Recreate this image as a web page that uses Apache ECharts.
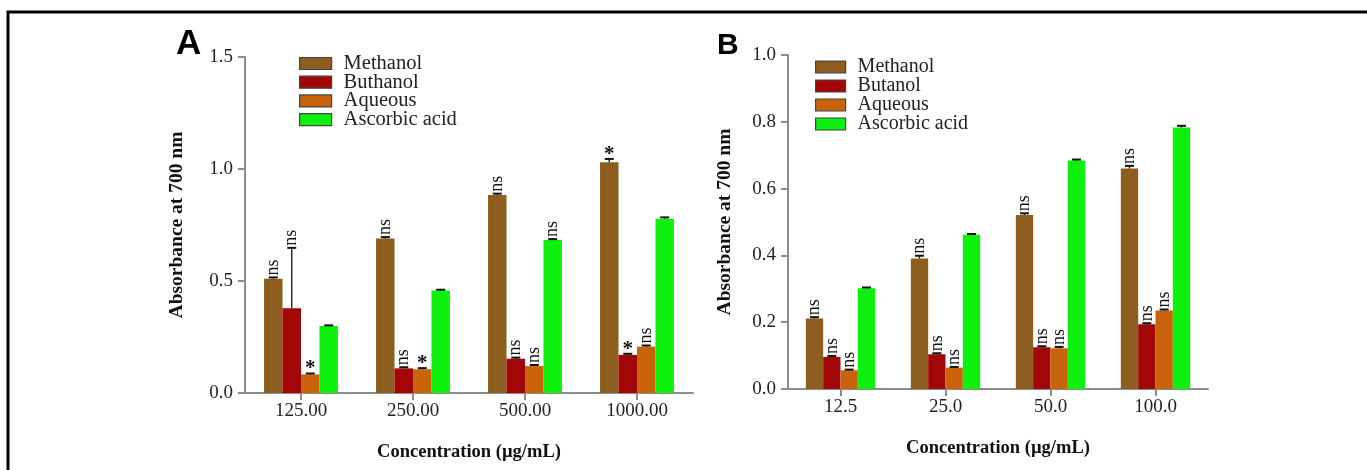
<!DOCTYPE html>
<html>
<head>
<meta charset="utf-8">
<script src="https://cdn.jsdelivr.net/npm/echarts@6/dist/echarts.min.js"></script>
<style>
html,body{margin:0;padding:0;background:#fff;}
#chart{width:1367px;height:470px;}
</style>
</head>
<body>
<div id="chart"></div>
<script>
// ---------- DATA ----------
const seriesNames = ['Methanol', 'Buthanol', 'Aqueous', 'Ascorbic acid'];
const seriesNamesB = ['Methanol', 'Butanol', 'Aqueous', 'Ascorbic acid'];

// Panel A
const catsA = ['125.00', '250.00', '500.00', '1000.00'];
const methanolA = [0.51, 0.69, 0.884, 1.03];
const buthanolA = [0.378, 0.110, 0.153, 0.170];
const aqueousA = [0.083, 0.106, 0.120, 0.207];
const ascorbicA = [0.299, 0.458, 0.683, 0.778];
const methanolErrA = [0.006, 0.006, 0.006, 0.015];
const buthanolErrA = [0.27, 0.005, 0.005, 0.005];
const aqueousErrA = [0.004, 0.005, 0.005, 0.005];
const ascorbicErrA = [0.003, 0.003, 0.004, 0.006];
const methanolSigA = ['ns', 'ns', 'ns', '*'];
const buthanolSigA = ['ns', 'ns', 'ns', '*'];
const aqueousSigA = ['*', '*', 'ns', 'ns'];
const ascorbicSigA = ['', '', 'ns', ''];
const yTicksA = [0, 0.5, 1.0, 1.5];

// Panel B
const catsB = ['12.5', '25.0', '50.0', '100.0'];
const methanolB = [0.211, 0.391, 0.521, 0.660];
const butanolB = [0.096, 0.104, 0.125, 0.194];
const aqueousB = [0.056, 0.064, 0.122, 0.235];
const ascorbicB = [0.302, 0.462, 0.684, 0.783];
const methanolErrB = [0.004, 0.008, 0.005, 0.008];
const butanolErrB = [0.003, 0.003, 0.003, 0.003];
const aqueousErrB = [0.002, 0.002, 0.004, 0.003];
const ascorbicErrB = [0.002, 0.002, 0.003, 0.005];
const methanolSigB = ['ns', 'ns', 'ns', 'ns'];
const butanolSigB = ['ns', 'ns', 'ns', 'ns'];
const aqueousSigB = ['ns', 'ns', 'ns', 'ns'];
const ascorbicSigB = ['', '', '', ''];
const yTicksB = [0, 0.2, 0.4, 0.6, 0.8, 1.0];

// ---------- STYLE ----------
const colors = ['#8E5D20', '#A30606', '#C9640C', '#0EF00E'];
const SERIF = 'Liberation Serif';
const CAT_GAP = 0.34;

function fmt(v, d) { return v.toFixed(d); }

function barSeries(name, data, idx, gi) {
  return {
    type: 'bar', name: name, data: data,
    xAxisIndex: gi, yAxisIndex: gi,
    barGap: '0%', barCategoryGap: (CAT_GAP * 100) + '%',
    itemStyle: { color: colors[idx] },
    emphasis: { disabled: true },
    z: 2
  };
}

function errSeries(values, errs, sigs, idx, gi) {
  return {
    type: 'custom', xAxisIndex: gi, yAxisIndex: gi,
    data: values.map((v, i) => [i, v, errs[i]]),
    z: 10, silent: true,
    renderItem: function (params, api) {
      const i = api.value(0), v = api.value(1), e = api.value(2);
      const sig = sigs[params.dataIndex];
      const band = api.size([1, 0])[0];
      const bw = band * (1 - CAT_GAP) / 4;
      const c = api.coord([i, v]);
      const x = c[0] + (idx - 1.5) * bw;
      const yTop = api.coord([i, v + e])[1];
      const children = [
        { type: 'line', shape: { x1: x, y1: c[1], x2: x, y2: yTop }, style: { stroke: '#111', lineWidth: 1.3 } },
        { type: 'line', shape: { x1: x - 4.5, y1: yTop, x2: x + 4.5, y2: yTop }, style: { stroke: '#111', lineWidth: 2 } }
      ];
      if (sig === 'ns') {
        children.push({
          type: 'text', x: x, y: yTop - 2, rotation: Math.PI / 2,
          style: { text: 'ns', font: '18px "' + SERIF + '"', fill: '#111', align: 'left', verticalAlign: 'middle' }
        });
      } else if (sig === '*') {
        children.push({
          type: 'text', x: x, y: yTop - 15,
          style: { text: '*', font: 'bold 21px "' + SERIF + '"', fill: '#111', align: 'center', verticalAlign: 'top' }
        });
      }
      return { type: 'group', children: children };
    }
  };
}

const axisLineStyle = { color: '#8c8c8c', width: 2 };
const labelStyle = { fontFamily: SERIF, fontSize: 19, color: '#222' };
const nameStyle = { fontFamily: SERIF, fontSize: 18.5, fontWeight: 'bold', color: '#111' };
const yNameStyle = { fontFamily: SERIF, fontSize: 19.5, fontWeight: 'bold', color: '#111' };

function xAxis(cats, gi) {
  return {
    type: 'category', gridIndex: gi, data: cats,
    axisLine: { lineStyle: axisLineStyle },
    axisTick: { show: true, alignWithLabel: true, length: 7, lineStyle: axisLineStyle },
    axisLabel: Object.assign({ margin: 9 }, labelStyle),
    name: 'Concentration (µg/mL)', nameLocation: 'middle', nameGap: 50,
    nameTextStyle: nameStyle
  };
}
function yAxis(max, interval, decimals, gi, gap) {
  return {
    type: 'value', gridIndex: gi, min: 0, max: max, interval: interval,
    axisLine: { show: true, lineStyle: axisLineStyle },
    axisTick: { show: true, length: 7, lineStyle: axisLineStyle },
    splitLine: { show: false },
    axisLabel: Object.assign({ margin: 12, formatter: v => fmt(v, decimals) }, labelStyle),
    name: 'Absorbance at 700 nm', nameLocation: 'middle', nameGap: gap, nameRotate: 90,
    nameTextStyle: yNameStyle
  };
}

const chart = echarts.init(document.getElementById('chart'));
chart.setOption({
  animation: false,
  backgroundColor: '#fff',
  grid: [
    { left: 245, top: 57, width: 448, height: 336 },
    { left: 788, top: 55, width: 420, height: 334 }
  ],
  xAxis: [xAxis(catsA, 0), xAxis(catsB, 1)],
  yAxis: [yAxis(yTicksA[yTicksA.length - 1], yTicksA[1] - yTicksA[0], 1, 0, 58),
          yAxis(yTicksB[yTicksB.length - 1], yTicksB[1] - yTicksB[0], 1, 1, 53)],
  legend: [
    {
      data: seriesNames, orient: 'vertical', left: 294, top: 48,
      icon: 'rect', itemWidth: 32, itemHeight: 12, itemGap: -2.3,
      itemStyle: { borderColor: '#444', borderWidth: 1.2 },
      textStyle: { fontFamily: SERIF, fontSize: 20.5, color: '#222', lineHeight: 18, padding: [0, 0, 0, 7] },
      selectedMode: false
    },
    {
      data: seriesNamesB, orient: 'vertical', left: 810, top: 52,
      icon: 'rect', itemWidth: 30, itemHeight: 12, itemGap: -1,
      itemStyle: { borderColor: '#444', borderWidth: 1.2 },
      textStyle: { fontFamily: SERIF, fontSize: 20, color: '#222', lineHeight: 18, padding: [0, 0, 0, 7] },
      selectedMode: false
    }
  ],
  graphic: [
    { type: 'polyline', shape: { points: [[8, 470], [8, 12], [1367, 12]] }, style: { stroke: '#000', lineWidth: 3, fill: null } },
    { type: 'text', x: 176, y: 44.5, style: { text: 'A', font: 'bold 35px "Liberation Sans"', fill: '#000', verticalAlign: 'middle' } },
    { type: 'text', x: 717, y: 45.5, style: { text: 'B', font: 'bold 30px "Liberation Sans"', fill: '#000', verticalAlign: 'middle' } }
  ],
  series: [
    barSeries(seriesNames[0], methanolA, 0, 0),
    barSeries(seriesNames[1], buthanolA, 1, 0),
    barSeries(seriesNames[2], aqueousA, 2, 0),
    barSeries(seriesNames[3], ascorbicA, 3, 0),
    barSeries(seriesNamesB[0], methanolB, 0, 1),
    barSeries(seriesNamesB[1], butanolB, 1, 1),
    barSeries(seriesNamesB[2], aqueousB, 2, 1),
    barSeries(seriesNamesB[3], ascorbicB, 3, 1),
    errSeries(methanolA, methanolErrA, methanolSigA, 0, 0),
    errSeries(buthanolA, buthanolErrA, buthanolSigA, 1, 0),
    errSeries(aqueousA, aqueousErrA, aqueousSigA, 2, 0),
    errSeries(ascorbicA, ascorbicErrA, ascorbicSigA, 3, 0),
    errSeries(methanolB, methanolErrB, methanolSigB, 0, 1),
    errSeries(butanolB, butanolErrB, butanolSigB, 1, 1),
    errSeries(aqueousB, aqueousErrB, aqueousSigB, 2, 1),
    errSeries(ascorbicB, ascorbicErrB, ascorbicSigB, 3, 1)
  ]
});
</script>
</body>
</html>
